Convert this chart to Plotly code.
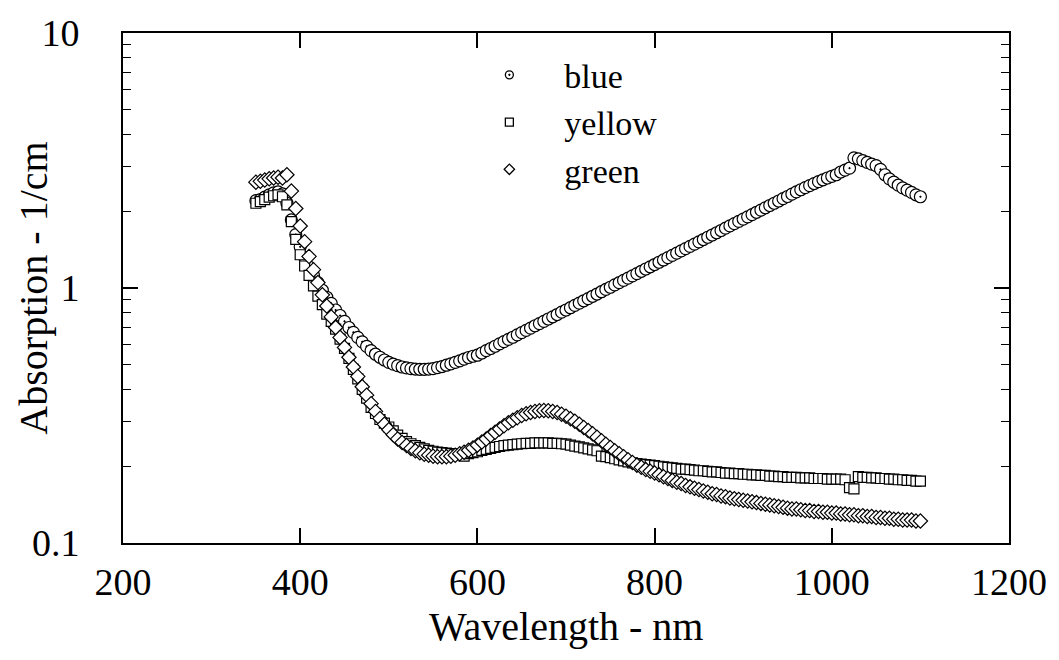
import plotly.graph_objects as go

wavelength = list(range(350, 1101, 5))

blue = [
    2.20, 2.22, 2.27, 2.32, 2.36, 2.38, 2.34, 2.15, 1.85, 1.62,
    1.45, 1.32, 1.21, 1.12, 1.05, 0.98, 0.92, 0.87, 0.82, 0.78,
    0.74, 0.70, 0.67, 0.64, 0.615, 0.59, 0.568, 0.55, 0.535, 0.522,
    0.511, 0.503, 0.496, 0.490, 0.486, 0.483, 0.481, 0.480, 0.480, 0.481,
    0.483, 0.487, 0.492, 0.498, 0.504, 0.511, 0.518, 0.526, 0.534, 0.540,
    0.545, 0.556, 0.568, 0.579, 0.591, 0.604, 0.616, 0.629, 0.641, 0.655,
    0.668, 0.682, 0.696, 0.711, 0.725, 0.740, 0.756, 0.771, 0.787, 0.804,
    0.820, 0.837, 0.855, 0.872, 0.891, 0.909, 0.928, 0.947, 0.967, 0.987,
    1.007, 1.028, 1.049, 1.071, 1.093, 1.116, 1.139, 1.163, 1.187, 1.211,
    1.236, 1.262, 1.288, 1.315, 1.342, 1.370, 1.398, 1.427, 1.456, 1.487,
    1.517, 1.549, 1.581, 1.614, 1.647, 1.681, 1.716, 1.752, 1.788, 1.825,
    1.862, 1.901, 1.940, 1.981, 2.021, 2.063, 2.106, 2.150, 2.194, 2.240,
    2.285, 2.333, 2.381, 2.428, 2.475, 2.522, 2.568, 2.613, 2.657, 2.700,
    2.740, 2.780, 2.850, 2.900, 2.950, 3.24, 3.21, 3.16, 3.11, 3.06,
    3.02, 2.92, 2.78, 2.68, 2.60, 2.53, 2.47, 2.42, 2.37, 2.32,
    2.28,
]

yellow = [
    2.15, 2.18, 2.22, 2.27, 2.30, 2.32, 2.28, 2.12, 1.82, 1.55,
    1.35, 1.22, 1.12, 1.02, 0.93, 0.86, 0.79, 0.74, 0.69, 0.63,
    0.58, 0.53, 0.48, 0.44, 0.40, 0.37, 0.34, 0.322, 0.305, 0.295,
    0.285, 0.275, 0.265, 0.257, 0.250, 0.245, 0.241, 0.237, 0.234, 0.231,
    0.229, 0.227, 0.226, 0.225, 0.224, 0.223, 0.223, 0.219, 0.224, 0.226,
    0.228, 0.231, 0.233, 0.235, 0.237, 0.239, 0.241, 0.242, 0.243, 0.244,
    0.245, 0.246, 0.246, 0.247, 0.247, 0.247, 0.247, 0.246, 0.246, 0.245,
    0.244, 0.242, 0.240, 0.238, 0.236, 0.234, 0.232, 0.230, 0.219, 0.218,
    0.216, 0.214, 0.212, 0.210, 0.208, 0.206, 0.205, 0.204, 0.203, 0.202,
    0.201, 0.200, 0.199, 0.198, 0.197, 0.196, 0.195, 0.195, 0.194, 0.193,
    0.192, 0.192, 0.191, 0.190, 0.190, 0.189, 0.188, 0.188, 0.187, 0.187,
    0.186, 0.186, 0.185, 0.185, 0.184, 0.184, 0.183, 0.183, 0.182, 0.182,
    0.181, 0.181, 0.181, 0.180, 0.180, 0.180, 0.179, 0.179, 0.179, 0.178,
    0.178, 0.178, 0.178, 0.177, 0.165, 0.163, 0.182, 0.181, 0.181, 0.180,
    0.180, 0.179, 0.179, 0.178, 0.178, 0.177, 0.177, 0.176, 0.176, 0.175,
    0.175,
]

green = [
    2.60, 2.62, 2.65, 2.68, 2.70, 2.72, 2.70, 2.78, 2.40, 2.05,
    1.75, 1.52, 1.33, 1.18, 1.05, 0.94, 0.85, 0.77, 0.70, 0.64,
    0.585, 0.535, 0.49, 0.45, 0.41, 0.38, 0.352, 0.328, 0.308, 0.292,
    0.278, 0.266, 0.256, 0.248, 0.241, 0.235, 0.230, 0.226, 0.223, 0.221,
    0.219, 0.218, 0.218, 0.218, 0.219, 0.221, 0.224, 0.227, 0.231, 0.236,
    0.242, 0.249, 0.256, 0.264, 0.272, 0.280, 0.288, 0.296, 0.303, 0.310,
    0.316, 0.321, 0.325, 0.328, 0.330, 0.331, 0.330, 0.328, 0.325, 0.320,
    0.314, 0.307, 0.300, 0.292, 0.284, 0.276, 0.268, 0.260, 0.252, 0.244,
    0.237, 0.230, 0.224, 0.218, 0.212, 0.207, 0.202, 0.198, 0.194, 0.191,
    0.188, 0.185, 0.182, 0.179, 0.176, 0.173, 0.171, 0.168, 0.166, 0.164,
    0.162, 0.160, 0.158, 0.156, 0.155, 0.153, 0.152, 0.150, 0.149, 0.148,
    0.147, 0.146, 0.145, 0.144, 0.143, 0.142, 0.141, 0.140, 0.139, 0.138,
    0.137, 0.136, 0.136, 0.135, 0.134, 0.134, 0.133, 0.133, 0.132, 0.132,
    0.131, 0.131, 0.130, 0.130, 0.129, 0.129, 0.128, 0.128, 0.127, 0.127,
    0.126, 0.126, 0.125, 0.125, 0.124, 0.124, 0.123, 0.123, 0.123, 0.122,
    0.122,
]

x_ticks = [200, 400, 600, 800, 1000, 1200]
y_ticks = [0.1, 1, 10]
y_tick_text = ["0.1", "1", "10"]

FONT = "Liberation Serif"

fig = go.Figure()
series = [("blue", blue, "circle-dot", 12), ("yellow", yellow, "square", 10), ("green", green, "diamond", 11)]
for name, vals, sym, sz in series:
    fig.add_trace(go.Scatter(
        x=wavelength, y=vals, mode="markers", name=name, showlegend=False,
        marker=dict(symbol=sym, size=sz, color="white", line=dict(color="black", width=1.2)),
    ))
# legend entries (smaller symbols, as in the original key)
for name, vals, sym, sz in series:
    fig.add_trace(go.Scatter(
        x=[None], y=[None], mode="markers", name=name, showlegend=True,
        marker=dict(symbol=sym, size=8, color="white", line=dict(color="black", width=1.3)),
    ))

axis_common = dict(
    showline=True, linecolor="black", linewidth=2, mirror="ticks",
    ticks="inside", tickcolor="black", tickwidth=1.5, ticklen=15,
    showgrid=False, zeroline=False,
    tickfont=dict(family=FONT, size=38, color="black"),
)

fig.update_xaxes(
    range=[200, 1200], tickvals=x_ticks,
    ticklabelstandoff=4,
    **axis_common,
)
fig.update_yaxes(
    type="log", range=[-1, 1], tickvals=y_ticks, ticktext=y_tick_text,
    minor=dict(ticks="inside", ticklen=8, tickwidth=1.2, tickcolor="black", dtick="D1", showgrid=False),
    ticklabelstandoff=34,
    **axis_common,
)

fig.add_annotation(
    text="Absorption - 1/cm", textangle=-90,
    xref="paper", yref="paper", x=-0.102, y=0.5, xanchor="center", yanchor="middle",
    showarrow=False, font=dict(family=FONT, size=40, color="black"),
)
fig.add_annotation(
    text="Wavelength - nm",
    xref="paper", yref="paper", x=0.5, y=-0.163, xanchor="center", yanchor="middle",
    showarrow=False, font=dict(family=FONT, size=40, color="black"),
)

fig.update_layout(
    width=1059, height=660,
    margin=dict(l=123, r=40, t=29, b=117),
    paper_bgcolor="white", plot_bgcolor="white",
    showlegend=True,
    legend=dict(
        x=0.374, y=0.974, xanchor="left", yanchor="top",
        bgcolor="rgba(0,0,0,0)", borderwidth=0,
        font=dict(family=FONT, size=34, color="black"),
        itemwidth=100,
    ),
)

fig.write_html("out.html")
